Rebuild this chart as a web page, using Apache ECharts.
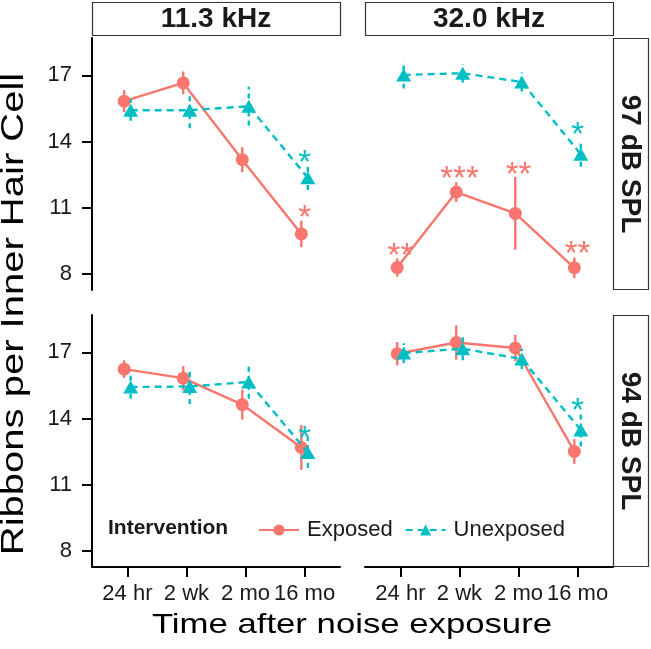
<!DOCTYPE html>
<html>
<head>
<meta charset="utf-8">
<script src="https://cdn.jsdelivr.net/npm/echarts@6/dist/echarts.min.js"></script>
<style>
  html, body { margin: 0; padding: 0; background: #fff; }
  #chart { width: 651px; height: 649px; }
</style>
</head>
<body>
<div id="chart"></div>
<script>
// ---------- data ----------
const categories = ['24 hr', '2 wk', '2 mo', '16 mo'];
const freqLabels = ['11.3 kHz', '32.0 kHz'];
const splLabels = ['97 dB SPL', '94 dB SPL'];
const yTicks = [8, 11, 14, 17];
const groupNames = ['Exposed', 'Unexposed'];

// 11.3 kHz, 97 dB SPL
const exposed_11k_97 = [15.83, 16.66, 13.17, 9.80];
const exposedSE_11k_97 = [0.50, 0.52, 0.57, 0.60];
const unexposed_11k_97 = [15.42, 15.42, 15.60, 12.35];
const unexposedSE_11k_97 = [0.48, 0.82, 0.88, 0.56];
const exposedSig_11k_97 = ['', '', '', '*'];
const exposedSigY_11k_97 = [0, 0, 0, 10.78];
const unexposedSig_11k_97 = ['', '', '', '*'];
const unexposedSigY_11k_97 = [0, 0, 0, 13.29];

// 32.0 kHz, 97 dB SPL
const exposed_32k_97 = [8.27, 11.70, 10.73, 8.26];
const exposedSE_32k_97 = [0.42, 0.45, 1.65, 0.47];
const unexposed_32k_97 = [17.02, 17.10, 16.70, 13.42];
const unexposedSE_32k_97 = [0.62, 0.42, 0.43, 0.57];
const exposedSig_32k_97 = ['**', '***', '**', '**'];
const exposedSigY_32k_97 = [9.05, 12.55, 12.77, 9.14];
const unexposedSig_32k_97 = ['', '', '', '*'];
const unexposedSigY_32k_97 = [0, 0, 0, 14.59];

// 11.3 kHz, 94 dB SPL
const exposed_11k_94 = [16.24, 15.83, 14.63, 12.68];
const exposedSE_11k_94 = [0.40, 0.55, 0.68, 1.02];
const unexposed_11k_94 = [15.43, 15.45, 15.66, 12.45];
const unexposedSE_11k_94 = [0.53, 0.79, 0.76, 0.70];
const exposedSig_11k_94 = ['', '', '', ''];
const exposedSigY_11k_94 = [0, 0, 0, 0];
const unexposedSig_11k_94 = ['', '', '', '*'];
const unexposedSigY_11k_94 = [0, 0, 0, 13.33];

// 32.0 kHz, 94 dB SPL
const exposed_32k_94 = [16.94, 17.45, 17.20, 12.50];
const exposedSE_32k_94 = [0.53, 0.78, 0.60, 0.56];
const unexposed_32k_94 = [16.97, 17.17, 16.70, 13.48];
const unexposedSE_32k_94 = [0.45, 0.53, 0.45, 0.75];
const exposedSig_32k_94 = ['', '', '', ''];
const exposedSigY_32k_94 = [0, 0, 0, 0];
const unexposedSig_32k_94 = ['', '', '', '*'];
const unexposedSigY_32k_94 = [0, 0, 0, 14.60];

// ---------- styling ----------
const COLORS = ['#F8766D', '#00BFC4'];
const DODGE = 0.055;
const FONT = "'Liberation Sans', Arial, sans-serif";
const Y_MIN = 7.25, Y_MAX = 18.7;
const X_MIN = 0.4, X_MAX = 4.6;

const panels = [
  { left: 92, top: 38, col: 0, row: 0,
    groups: [[exposed_11k_97, exposedSE_11k_97, exposedSig_11k_97, exposedSigY_11k_97],
             [unexposed_11k_97, unexposedSE_11k_97, unexposedSig_11k_97, unexposedSigY_11k_97]] },
  { left: 365, top: 38, col: 1, row: 0,
    groups: [[exposed_32k_97, exposedSE_32k_97, exposedSig_32k_97, exposedSigY_32k_97],
             [unexposed_32k_97, unexposedSE_32k_97, unexposedSig_32k_97, unexposedSigY_32k_97]] },
  { left: 92, top: 315, col: 0, row: 1,
    groups: [[exposed_11k_94, exposedSE_11k_94, exposedSig_11k_94, exposedSigY_11k_94],
             [unexposed_11k_94, unexposedSE_11k_94, unexposedSig_11k_94, unexposedSigY_11k_94]] },
  { left: 365, top: 315, col: 1, row: 1,
    groups: [[exposed_32k_94, exposedSE_32k_94, exposedSig_32k_94, exposedSigY_32k_94],
             [unexposed_32k_94, unexposedSE_32k_94, unexposedSig_32k_94, unexposedSigY_32k_94]] }
];
const PW = 248, PH = 252;

const grids = [], xAxes = [], yAxes = [], series = [];
const axisLineStyle = { color: '#000', width: 2 };

panels.forEach((p, pi) => {
  grids.push({ left: p.left, top: p.top, width: PW, height: PH, containLabel: false });
  const showX = p.row === 1;
  const showY = p.col === 0;
  xAxes.push({
    type: 'value', gridIndex: pi, min: X_MIN, max: X_MAX,
    show: showX,
    splitLine: { show: false },
    axisLine: { show: true, onZero: false, lineStyle: axisLineStyle },
    axisTick: { show: true, length: 10, lineStyle: axisLineStyle, customValues: [1, 2, 3, 4] },
    axisLabel: {
      show: true, customValues: [1, 2, 3, 4], margin: 16,
      formatter: v => categories[Math.round(v) - 1],
      color: '#1a1a1a', fontSize: 22, fontFamily: FONT
    }
  });
  yAxes.push({
    type: 'value', gridIndex: pi, min: Y_MIN, max: Y_MAX,
    show: showY,
    splitLine: { show: false },
    axisLine: { show: true, onZero: false, lineStyle: axisLineStyle },
    axisTick: { show: true, length: 10, lineStyle: axisLineStyle, customValues: yTicks },
    axisLabel: {
      show: true, customValues: yTicks, margin: 20,
      color: '#1a1a1a', fontSize: 22, fontFamily: FONT
    }
  });

  p.groups.forEach((g, gi) => {
    const [means, ses, sigs, sigYs] = g;
    const off = gi === 0 ? -DODGE : DODGE;
    const color = COLORS[gi];
    const dashed = gi === 1;
    // error bars
    series.push({
      type: 'custom', name: groupNames[gi] + ' SE', xAxisIndex: pi, yAxisIndex: pi,
      z: 2 + gi * 3,
      data: means.map((m, i) => [i + 1 + off, m - ses[i], m + ses[i]]),
      encode: { x: 0, y: [1, 2] },
      renderItem: (params, api) => {
        const a = api.coord([api.value(0), api.value(1)]);
        const b = api.coord([api.value(0), api.value(2)]);
        return {
          type: 'line',
          shape: { x1: a[0], y1: a[1], x2: b[0], y2: b[1] },
          style: { stroke: color, lineWidth: 2.4, lineDash: dashed ? [5, 4] : null }
        };
      },
      silent: true
    });
    // mean lines + points
    series.push({
      type: 'line', name: groupNames[gi], xAxisIndex: pi, yAxisIndex: pi,
      z: 3 + gi * 3,
      data: means.map((m, i) => [i + 1 + off, m]),
      symbol: gi === 0 ? 'circle' : 'triangle',
      symbolSize: gi === 0 ? 13 : [15, 13],
      showSymbol: true,
      itemStyle: { color: color, borderWidth: 0 },
      lineStyle: { color: color, width: 2.4, type: dashed ? [7, 5] : 'solid' },
      animation: false,
      silent: true
    });
    // significance stars
    const sigItems = [];
    sigs.forEach((s, i) => { if (s) sigItems.push({ text: s, value: [i + 1, sigYs[i]] }); });
    if (sigItems.length) {
      series.push({
        type: 'custom', name: groupNames[gi] + ' sig', xAxisIndex: pi, yAxisIndex: pi,
        z: 10,
        data: sigItems.map(d => d.value),
        encode: { x: 0, y: 1 },
        renderItem: (params, api) => {
          const c = api.coord([api.value(0), api.value(1)]);
          return {
            type: 'text', x: c[0], y: c[1] + 7,
            style: {
              text: sigItems[params.dataIndex].text, fill: color,
              font: '33px ' + FONT, align: 'center', verticalAlign: 'middle'
            }
          };
        },
        silent: true
      });
    }
  });
});

// strips & titles
const graphics = [];
panels.forEach(p => {
  if (p.row === 0) {
    graphics.push({ type: 'rect', shape: { x: p.left + 0.5, y: 2.5, width: PW, height: 33 },
      style: { fill: '#fff', stroke: '#333', lineWidth: 1.2 } });
    graphics.push({ type: 'text', x: p.left + PW / 2, y: 19,
      style: { text: freqLabels[p.col], font: 'bold 28px ' + FONT, fill: '#1a1a1a',
        align: 'center', verticalAlign: 'middle' } });
  }
  if (p.col === 1) {
    graphics.push({ type: 'rect', shape: { x: 613.5, y: p.top + 0.5, width: 35, height: PH - 1 },
      style: { fill: '#fff', stroke: '#333', lineWidth: 1.2 } });
    graphics.push({ type: 'text', x: 630, y: p.top + PH / 2, rotation: -Math.PI / 2,
      style: { text: splLabels[p.row], font: 'bold 28px ' + FONT, fill: '#1a1a1a',
        align: 'center', verticalAlign: 'middle' } });
  }
});
graphics.push({ type: 'text', x: 352, y: 625, scaleX: 1.24, scaleY: 1,
  style: { text: 'Time after noise exposure', font: '28px ' + FONT, fill: '#000',
    align: 'center', verticalAlign: 'middle' } });
graphics.push({ type: 'text', x: 14, y: 314, rotation: Math.PI / 2, scaleX: 1.25, scaleY: 1,
  style: { text: 'Ribbons per Inner Hair Cell', font: '32px ' + FONT, fill: '#000',
    align: 'center', verticalAlign: 'middle' } });
graphics.push({ type: 'text', x: 108, y: 528,
  style: { text: 'Intervention', font: 'bold 21px ' + FONT, fill: '#1a1a1a',
    align: 'left', verticalAlign: 'middle' } });

const chart = echarts.init(document.getElementById('chart'), null, { renderer: 'canvas' });
chart.setOption({
  animation: false,
  backgroundColor: '#fff',
  grid: grids,
  xAxis: xAxes,
  yAxis: yAxes,
  series: series,
  legend: {
    data: groupNames,
    left: 253, top: 514,
    itemWidth: 40, itemHeight: 14, itemGap: 12,
    textStyle: { fontSize: 22, fontFamily: FONT, color: '#1a1a1a', padding: [0, 0, 0, 3] },
    selectedMode: false
  },
  graphic: graphics
});
</script>
</body>
</html>
